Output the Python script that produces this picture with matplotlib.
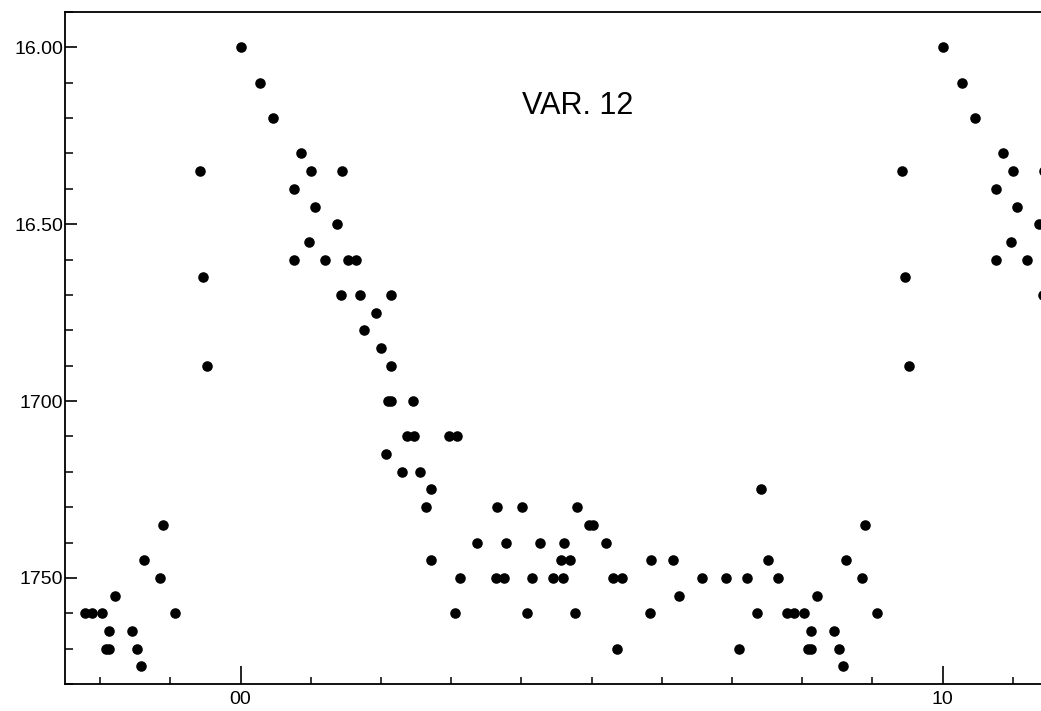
import numpy as np
import matplotlib
matplotlib.use("Agg")
import matplotlib.pyplot as plt
from matplotlib.ticker import MultipleLocator, FixedLocator

# Phase (0..1) and magnitude of VAR. 12
phase = [0.000, 0.028, 0.047, 0.0755, 0.0755, 0.086, 0.098, 0.101, 0.106, 0.120,
         0.1368, 0.1425, 0.144, 0.153, 0.164, 0.170, 0.176, 0.193, 0.200, 0.2075,
         0.210, 0.214, 0.215, 0.215, 0.230, 0.237, 0.246, 0.247, 0.255, 0.2645,
         0.271, 0.271, 0.297, 0.305, 0.309, 0.313, 0.337, 0.364, 0.3655, 0.375,
         0.378, 0.401, 0.408, 0.415, 0.426, 0.445, 0.456, 0.460, 0.4615, 0.470,
         0.476, 0.480, 0.496, 0.502, 0.520, 0.530, 0.5365, 0.543, 0.584, 0.585,
         0.616, 0.625, 0.657, 0.692, 0.710, 0.722, 0.7355, 0.741, 0.752, 0.765,
         0.779, 0.789, 0.803, 0.809, 0.812, 0.813, 0.821, 0.845, 0.852, 0.858,
         0.862, 0.886, 0.889, 0.906, 0.942, 0.947, 0.952]
mag = [16.00, 16.10, 16.20, 16.40, 16.60, 16.30, 16.55, 16.35, 16.45, 16.60,
       16.50, 16.70, 16.35, 16.60, 16.60, 16.70, 16.80, 16.75, 16.85, 17.15,
       17.00, 16.70, 16.90, 17.00, 17.20, 17.10, 17.00, 17.10, 17.20, 17.30,
       17.25, 17.45, 17.10, 17.60, 17.10, 17.50, 17.40, 17.50, 17.30, 17.50,
       17.40, 17.30, 17.60, 17.50, 17.40, 17.50, 17.45, 17.50, 17.40, 17.45,
       17.60, 17.30, 17.35, 17.35, 17.40, 17.50, 17.70, 17.50, 17.60, 17.45,
       17.45, 17.55, 17.50, 17.50, 17.70, 17.50, 17.60, 17.25, 17.45, 17.50,
       17.60, 17.60, 17.60, 17.70, 17.65, 17.70, 17.55, 17.65, 17.70, 17.75,
       17.45, 17.50, 17.35, 17.60, 16.35, 16.65, 16.90]

y_ticks = [16.0, 16.5, 17.0, 17.5]
y_tick_labels = ["16.00", "16.50", "1700", "1750"]
x_ticks = [0.0, 1.0]
x_tick_labels = ["00", "10"]
title = "VAR. 12"

plt.rcParams['font.family'] = ['Liberation Sans', 'DejaVu Sans']

ph = np.array(phase)
mg = np.array(mag)

fig = plt.figure(figsize=(10.41, 7.11), dpi=100)
ax = fig.add_axes([65 / 1041, 27 / 711, 1053 / 1041, 672 / 711])

# plot phase, phase-1 (for late phases) and phase+1
sel_lo = ph > 0.77
xs = np.concatenate([ph, ph[sel_lo] - 1.0, ph + 1.0])
ys = np.concatenate([mg, mg[sel_lo], mg])
ax.plot(xs, ys, 'o', color='black', markersize=7.6, markeredgewidth=0)

ax.set_xlim(-0.25, 1.25)
ax.set_ylim(17.80, 15.90)

ax.yaxis.set_major_locator(FixedLocator(y_ticks))
ax.set_yticklabels(y_tick_labels)
ax.yaxis.set_minor_locator(MultipleLocator(0.1))
ax.xaxis.set_major_locator(FixedLocator(x_ticks))
ax.set_xticklabels(x_tick_labels)
ax.xaxis.set_minor_locator(MultipleLocator(0.1))

ax.tick_params(axis='y', which='major', direction='in', length=8.5, width=1.2,
               labelsize=14, pad=1.5, left=True, right=False)
ax.tick_params(axis='y', which='minor', direction='in', length=6, width=1.1)
ax.tick_params(axis='x', which='major', direction='in', length=13, width=1.2,
               labelsize=14, pad=5)
ax.tick_params(axis='x', which='minor', direction='in', length=5, width=1.1)

for s in ['left', 'bottom', 'top']:
    ax.spines[s].set_linewidth(1.3)
ax.spines['right'].set_visible(False)

ax.text(0.48, 16.167, title, ha='center', va='center', fontsize=22)

fig.savefig('out.png', dpi=100)
